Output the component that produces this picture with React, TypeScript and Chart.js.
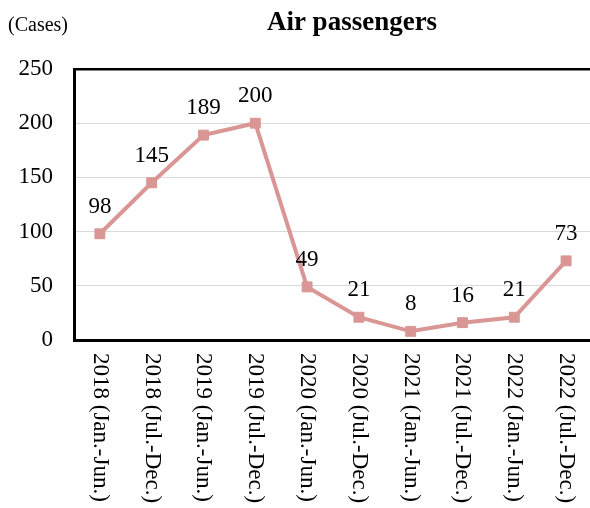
import React, { useEffect, useRef } from "react";
import { Chart, registerables } from "chart.js";

Chart.register(...registerables);

// Half-year periods on the category axis
const periods: string[] = [
  "2018 (Jan.-Jun.)",
  "2018 (Jul.-Dec.)",
  "2019 (Jan.-Jun.)",
  "2019 (Jul.-Dec.)",
  "2020 (Jan.-Jun.)",
  "2020 (Jul.-Dec.)",
  "2021 (Jan.-Jun.)",
  "2021 (Jul.-Dec.)",
  "2022 (Jan.-Jun.)",
  "2022 (Jul.-Dec.)",
];

// Number of cases per period
const passengers: number[] = [98, 145, 189, 200, 49, 21, 8, 16, 21, 73];

// Value axis
const yMin = 0;
const yMax = 250;
const yStep = 50;

const titleText = "Air passengers";
const unitText = "(Cases)";

const SERIF = "'Liberation Serif', 'Times New Roman', serif";
const LINE_COLOR = "#d99694";

// Title, unit caption, point values and vertical category labels
const textPlugin = {
  id: "chartTexts",
  afterDraw(chart: any) {
    const ctx = chart.ctx as CanvasRenderingContext2D;
    const area = chart.chartArea;
    ctx.save();
    ctx.fillStyle = "#000";

    ctx.font = `bold 27px ${SERIF}`;
    ctx.textAlign = "center";
    ctx.textBaseline = "alphabetic";
    ctx.fillText(titleText, 352, 30);

    ctx.font = `20px ${SERIF}`;
    ctx.textAlign = "left";
    ctx.fillText(unitText, 8, 31);

    // values above the points
    const meta = chart.getDatasetMeta(0);
    ctx.font = `23px ${SERIF}`;
    ctx.textAlign = "center";
    meta.data.forEach((pt: any, i: number) => {
      const v = chart.data.datasets[0].data[i];
      ctx.fillText(String(v), pt.x, pt.y - 21);
    });

    // category labels, reading top to bottom
    const xScale = chart.scales.x;
    ctx.font = `23px ${SERIF}`;
    ctx.textAlign = "left";
    ctx.textBaseline = "middle";
    periods.forEach((label, i) => {
      const x = xScale.getPixelForTick(i);
      ctx.save();
      ctx.translate(x, area.bottom + 13);
      ctx.rotate(Math.PI / 2);
      ctx.fillText(label, 0, 0);
      ctx.restore();
    });
    ctx.restore();
  },
};

export default function App() {
  const canvasRef = useRef<HTMLCanvasElement | null>(null);

  useEffect(() => {
    if (!canvasRef.current) return;
    const chart = new Chart(canvasRef.current, {
      type: "line",
      data: {
        labels: periods,
        datasets: [
          {
            data: passengers,
            borderColor: LINE_COLOR,
            backgroundColor: LINE_COLOR,
            borderWidth: 4,
            tension: 0,
            pointStyle: "rect",
            pointRadius: 7,
            pointBorderWidth: 1,
            pointBackgroundColor: LINE_COLOR,
            pointBorderColor: LINE_COLOR,
          },
        ],
      },
      options: {
        responsive: false,
        animation: false,
        layout: { padding: { top: 69, right: 7, bottom: 168, left: 0 } },
        plugins: {
          legend: { display: false },
          title: { display: false },
          tooltip: { enabled: false },
        },
        scales: {
          x: {
            offset: true,
            grid: { display: false, drawTicks: false },
            border: { display: true, color: "#000", width: 3 },
            ticks: { display: false },
            afterFit: (s: any) => {
              s.height = 0;
            },
          },
          y: {
            min: yMin,
            max: yMax,
            grid: {
              drawTicks: false,
              color: (c: any) =>
                c.tick && (c.tick.value === yMax || c.tick.value === yMin) ? "#000" : "#d9d9d9",
              lineWidth: (c: any) =>
                c.tick && (c.tick.value === yMax || c.tick.value === yMin) ? 2.5 : 1,
            },
            border: { display: true, color: "#000", width: 3 },
            ticks: {
              stepSize: yStep,
              padding: 21,
              color: "#000",
              font: { family: SERIF, size: 23 },
            },
            afterFit: (s: any) => {
              s.width = 74;
            },
          },
        },
      },
      plugins: [textPlugin],
    });
    return () => chart.destroy();
  }, []);

  return (
    <div
      style={{
        position: "fixed",
        left: 0,
        top: 0,
        width: 590,
        height: 508,
        overflow: "hidden",
        background: "#fff",
      }}
    >
      <canvas ref={canvasRef} width={600} height={508} style={{ display: "block" }} />
    </div>
  );
}
